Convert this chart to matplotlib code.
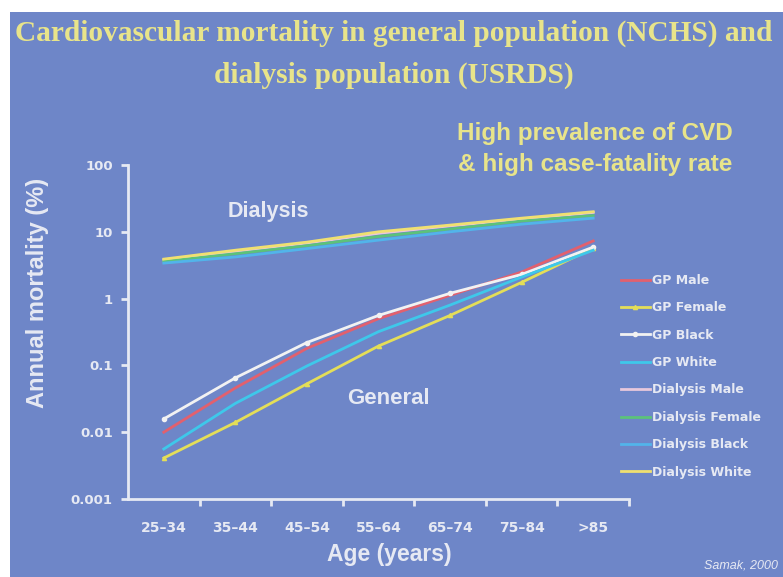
import matplotlib
matplotlib.use('Agg')
import matplotlib.pyplot as plt
import matplotlib.patches as patches

# Age groups and annual CV mortality (%)
ages = ['25–34', '35–44', '45–54', '55–64', '65–74', '75–84', '>85']

gp_male = [0.010, 0.046, 0.18, 0.50, 1.12, 2.5, 7.3]
gp_female = [0.0041, 0.014, 0.053, 0.195, 0.56, 1.75, 5.7]
gp_black = [0.0158, 0.065, 0.22, 0.56, 1.2, 2.3, 5.9]
gp_white = [0.0056, 0.027, 0.098, 0.32, 0.8, 2.1, 5.3]
dial_male = [3.8, 5.1, 6.8, 9.5, 12.3, 15.5, 19.5]
dial_female = [3.6, 4.7, 6.2, 8.5, 11.0, 14.5, 17.5]
dial_black = [3.4, 4.2, 5.6, 7.5, 10.0, 13.0, 16.0]
dial_white = [3.9, 5.3, 7.0, 10.0, 12.6, 16.0, 20.0]

series_names = ['GP Male', 'GP Female', 'GP Black', 'GP White',
                'Dialysis Male', 'Dialysis Female', 'Dialysis Black', 'Dialysis White']
series_vals = [gp_male, gp_female, gp_black, gp_white,
               dial_male, dial_female, dial_black, dial_white]
yticks = [0.001, 0.01, 0.1, 1, 10, 100]
ytick_labels = ['0.001', '0.01', '0.1', '1', '10', '100']

bg = '#6e86c8'
title_col = '#e8e48a'
text_col = '#e6e9f3'

colors = ['#e2606e', '#e4de58', '#f2f2f2', '#3ec8ea',
          '#e8c8dc', '#5cc27a', '#52b4ea', '#f0e070']
markers = ['', '^', 'o', '', '', '', '', '']

fig = plt.figure(figsize=(7.83, 5.77), dpi=100)
fig.patch.set_facecolor('white')
# blue slide background with a thin white border at left and top
fig.patches.append(patches.Rectangle((10 / 783, 0), 1, 1 - 12 / 577,
                                     transform=fig.transFigure, facecolor=bg,
                                     edgecolor='none', zorder=-10))

ax = fig.add_axes([128 / 783, 1 - 499 / 577, 501 / 783, 334 / 577])
ax.set_facecolor('none')

x = list(range(len(ages)))
for name, vals, c, m in zip(series_names, series_vals, colors, markers):
    ax.plot(x, vals, color=c, lw=2, marker=m, ms=3, label=name)

ax.set_yscale('log')
ax.set_ylim(0.001, 100)
ax.set_xlim(-0.5, 6.5)
ax.set_yticks(yticks)
ax.set_yticklabels(ytick_labels)
ax.minorticks_off()
ax.set_xticks(x)
ax.set_xticklabels(ages)
ax.set_xticks([i + 0.5 for i in x], minor=True)
ax.tick_params(axis='x', which='major', length=0, pad=16, labelsize=10,
               labelcolor=text_col)
ax.tick_params(axis='x', which='minor', length=5, width=2, color=text_col)
ax.tick_params(axis='y', length=5, width=2, color=text_col, labelsize=9.5,
               labelcolor=text_col, pad=6)
for lab in ax.get_xticklabels() + ax.get_yticklabels():
    lab.set_fontweight('bold')

for s in ['top', 'right']:
    ax.spines[s].set_visible(False)
for s in ['left', 'bottom']:
    ax.spines[s].set_color(text_col)
    ax.spines[s].set_linewidth(2)

# axis titles placed as on the slide (not centred on the axes)
fig.text(38 / 783, 1 - 293 / 577, 'Annual mortality (%)', rotation=90,
         fontsize=17, fontweight='bold', color=text_col, family='Liberation Sans',
         ha='center', va='center')
fig.text(389 / 783, 1 - 554 / 577, 'Age (years)', fontsize=16.5, fontweight='bold',
         color=text_col, family='Liberation Sans', ha='center', va='center')

ax.text(0.28, 0.86, 'Dialysis', transform=ax.transAxes, fontsize=15.5,
        fontweight='bold', color=text_col, family='Liberation Sans',
        ha='center', va='center')
ax.text(0.52, 0.30, 'General', transform=ax.transAxes, fontsize=16,
        fontweight='bold', color=text_col, family='Liberation Sans',
        ha='center', va='center')

fig.text(0.503, 1 - 33 / 577, 'Cardiovascular mortality in general population (NCHS) and',
         fontsize=21.2, fontweight='bold', color=title_col, family='Liberation Serif',
         ha='center', va='center')
fig.text(0.503, 1 - 75 / 577, 'dialysis population (USRDS)',
         fontsize=21.2, fontweight='bold', color=title_col, family='Liberation Serif',
         ha='center', va='center')
fig.text(595 / 783, 1 - 133 / 577, 'High prevalence of CVD',
         fontsize=17.5, fontweight='bold', color=title_col, family='Liberation Sans',
         ha='center', va='center')
fig.text(595 / 783, 1 - 164 / 577, '& high case-fatality rate',
         fontsize=17.5, fontweight='bold', color=title_col, family='Liberation Sans',
         ha='center', va='center')
fig.text(778 / 783, 1 - 566 / 577, 'Samak, 2000', fontsize=9, style='italic',
         color=text_col, family='Liberation Sans', ha='right', va='center')

leg = ax.legend(loc='upper left', bbox_to_anchor=(621 / 783, 1 - 274 / 577),
                bbox_transform=fig.transFigure, frameon=False,
                prop={'weight': 'bold', 'size': 9}, handlelength=2.3,
                handletextpad=0.15, labelspacing=1.15, borderpad=0,
                borderaxespad=0)
for t in leg.get_texts():
    t.set_color(text_col)

fig.savefig('out.png', dpi=100)
